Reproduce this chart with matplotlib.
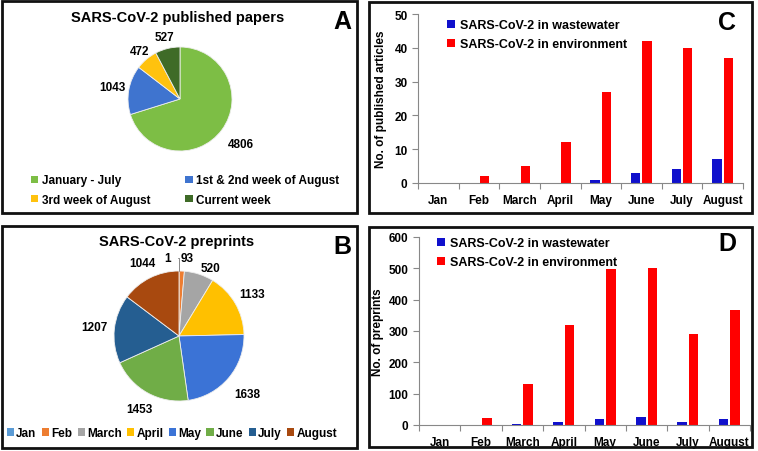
import numpy as np
import matplotlib
matplotlib.use('Agg')
import matplotlib.pyplot as plt
from matplotlib.patches import Rectangle, Patch

plt.rcParams['font.family'] = ['Liberation Sans', 'DejaVu Sans']
plt.rcParams['font.weight'] = 'bold'

# ---------------- data ----------------
papers_labels = ['January - July', '1st & 2nd week of August', '3rd week of August', 'Current week']
papers_values = [4806, 1043, 472, 527]
papers_colors = ['#7DBE45', '#3F74CF', '#FFC20E', '#3F6B27']

pre_labels = ['Jan', 'Feb', 'March', 'April', 'May', 'June', 'July', 'August']
pre_values = [1, 93, 520, 1133, 1638, 1453, 1207, 1044]
pre_colors = ['#5B9BD5', '#ED7D31', '#A5A5A5', '#FFC000', '#3B73D6', '#70AD47', '#255E91', '#A8490F']

months = ['Jan', 'Feb', 'March', 'April', 'May', 'June', 'July', 'August']
pub_wastewater = [0, 0, 0, 0, 1, 3, 4, 7]
pub_environment = [0, 2, 5, 12, 27, 42, 40, 37]
prep_wastewater = [0, 0, 2, 10, 20, 27, 9, 18]
prep_environment = [0, 21, 130, 320, 497, 500, 289, 367]

W, H = 758, 452
fig = plt.figure(figsize=(W / 100, H / 100), dpi=100)
fig.patch.set_facecolor('white')


def fx(px):
    return px / W


def fy(py):
    return 1 - py / H


def box(x0, y0, x1, y1):
    fig.patches.append(Rectangle((fx(x0), fy(y1)), fx(x1) - fx(x0), fy(y0) - fy(y1),
                                 transform=fig.transFigure, fill=False,
                                 edgecolor='#111111', linewidth=2))


LIM = 1.6


def pie_axes(cx, cy, r):
    s = 2 * LIM * r
    ax = fig.add_axes([fx(cx - s / 2), fy(cy + s / 2), s / W, s / H])
    return ax


def fix_limits(ax):
    ax.set_xlim(-LIM, LIM)
    ax.set_ylim(-LIM, LIM)
    ax.axis('off')


def value_labels(ax, wedges, values, dists, shifts=None):
    for i, (w, v) in enumerate(zip(wedges, values)):
        ang = np.deg2rad((w.theta1 + w.theta2) / 2)
        x, y = dists[i] * np.cos(ang), dists[i] * np.sin(ang)
        if shifts:
            x += shifts[i]
        ax.text(x, y, str(v), ha='center', va='center', fontsize=8.5, fontweight='bold')


# ---------------- panel A ----------------
box(2, 2, 357, 214)
axA = pie_axes(180, 100, 52)
wA, _ = axA.pie(papers_values, colors=papers_colors, startangle=90, counterclock=False,
                wedgeprops=dict(edgecolor='#eeeeee', linewidth=0.6))
fix_limits(axA)
value_labels(axA, wA, papers_values, [1.46, 1.32, 1.2, 1.22])
fig.text(fx(178), fy(18), 'SARS-CoV-2 published papers', ha='center', va='center',
         fontsize=10.5, fontweight='bold')
fig.text(fx(342), fy(22), 'A', ha='center', va='center', fontsize=18, fontweight='bold')
order = [0, 2, 1, 3]
handlesA = [Patch(facecolor=papers_colors[i], label=papers_labels[i]) for i in order]
fig.legend(handles=handlesA, loc='center left', bbox_to_anchor=(fx(25), fy(191)), ncol=2,
           frameon=False, fontsize=8.5, handlelength=0.6, handleheight=0.6,
           handletextpad=0.3, columnspacing=3.0, labelspacing=0.6, borderpad=0)

# ---------------- panel B ----------------
box(2, 227, 357, 449)
axB = pie_axes(179, 337, 65)
wB, _ = axB.pie(pre_values, colors=pre_colors, startangle=90, counterclock=False,
                wedgeprops=dict(edgecolor='#eeeeee', linewidth=0.6))
fix_limits(axB)
value_labels(axB, wB[1:], pre_values[1:], [1.2, 1.1, 1.3, 1.38, 1.28, 1.31, 1.25],
             shifts=[0.08, 0.15, 0, 0, 0, 0, 0])
axB.annotate(str(pre_values[0]), xy=(0.0, 1.0), xytext=(-0.17, 1.2), ha='center', va='center',
             fontsize=8.5, fontweight='bold',
             arrowprops=dict(arrowstyle='-', color='#888888', lw=0.7,
                             connectionstyle='angle,angleA=0,angleB=90,rad=0', shrinkA=3, shrinkB=0))
fig.text(fx(177), fy(242), 'SARS-CoV-2 preprints', ha='center', va='center',
         fontsize=10.5, fontweight='bold')
fig.text(fx(342), fy(247), 'B', ha='center', va='center', fontsize=18, fontweight='bold')
handlesB = [Patch(facecolor=c, label=l) for c, l in zip(pre_colors, pre_labels)]
fig.legend(handles=handlesB, loc='center', bbox_to_anchor=(fx(172), fy(434)), ncol=8,
           frameon=False, fontsize=8.5, handlelength=0.6, handleheight=0.6,
           handletextpad=0.2, columnspacing=0.45, borderpad=0)


# ---------------- bar panels ----------------
def bar_panel(left, right, top, bottom, ww, env, ymax, ystep, ylabel, label_x, letter, leg_x, leg_y):
    ax = fig.add_axes([fx(left), fy(bottom), fx(right) - fx(left), fy(top) - fy(bottom)])
    x = np.arange(len(months))
    bw = 0.23
    ax.bar(x - 0.14, ww, bw, color='#1010CC', label='SARS-CoV-2 in wastewater')
    ax.bar(x + 0.14, env, bw, color='#FF0000', label='SARS-CoV-2 in environment')
    ax.set_xlim(-0.5, len(months) - 0.5)
    ax.set_ylim(0, ymax)
    ax.set_yticks(np.arange(0, ymax + 1, ystep))
    ax.set_xticks(np.arange(len(months) + 1) - 0.5)
    ax.set_xticklabels([])
    ax.set_xticks(x, minor=True)
    ax.set_xticklabels(months, minor=True)
    ax.tick_params(axis='x', which='major', length=4, color='#888888', direction='out')
    ax.tick_params(axis='x', which='minor', length=0, pad=8, labelsize=8.5)
    ax.tick_params(axis='y', length=4, color='#888888', labelsize=8.5)
    for lab in ax.get_xticklabels(minor=True) + ax.get_yticklabels():
        lab.set_fontweight('bold')
    for s in ['top', 'right']:
        ax.spines[s].set_visible(False)
    for s in ['left', 'bottom']:
        ax.spines[s].set_color('#888888')
        ax.spines[s].set_linewidth(0.8)
    ax.set_ylabel(ylabel, fontsize=8.5, fontweight='bold')
    ax.yaxis.set_label_coords((label_x - left) / (right - left), 0.5)
    ax.legend(loc='upper left', bbox_to_anchor=(fx(leg_x), fy(leg_y)),
              bbox_transform=fig.transFigure, frameon=False, fontsize=9,
              handlelength=0.6, handleheight=0.6, handletextpad=0.4,
              labelspacing=0.55, borderpad=0)
    fig.text(fx(727), fy(letter[1]), letter[0], ha='center', va='center',
             fontsize=18, fontweight='bold')
    return ax


box(369, 3, 752, 214)
bar_panel(418, 743, 15, 184, pub_wastewater, pub_environment, 50, 10,
          'No. of published articles', 387, ('C', 23), 441, 14)

box(369, 228, 752, 448)
bar_panel(419, 750, 238, 426, prep_wastewater, prep_environment, 600, 100,
          'No. of preprints', 384, ('D', 244), 431, 232)

fig.savefig('out.png', dpi=100, facecolor='white')
